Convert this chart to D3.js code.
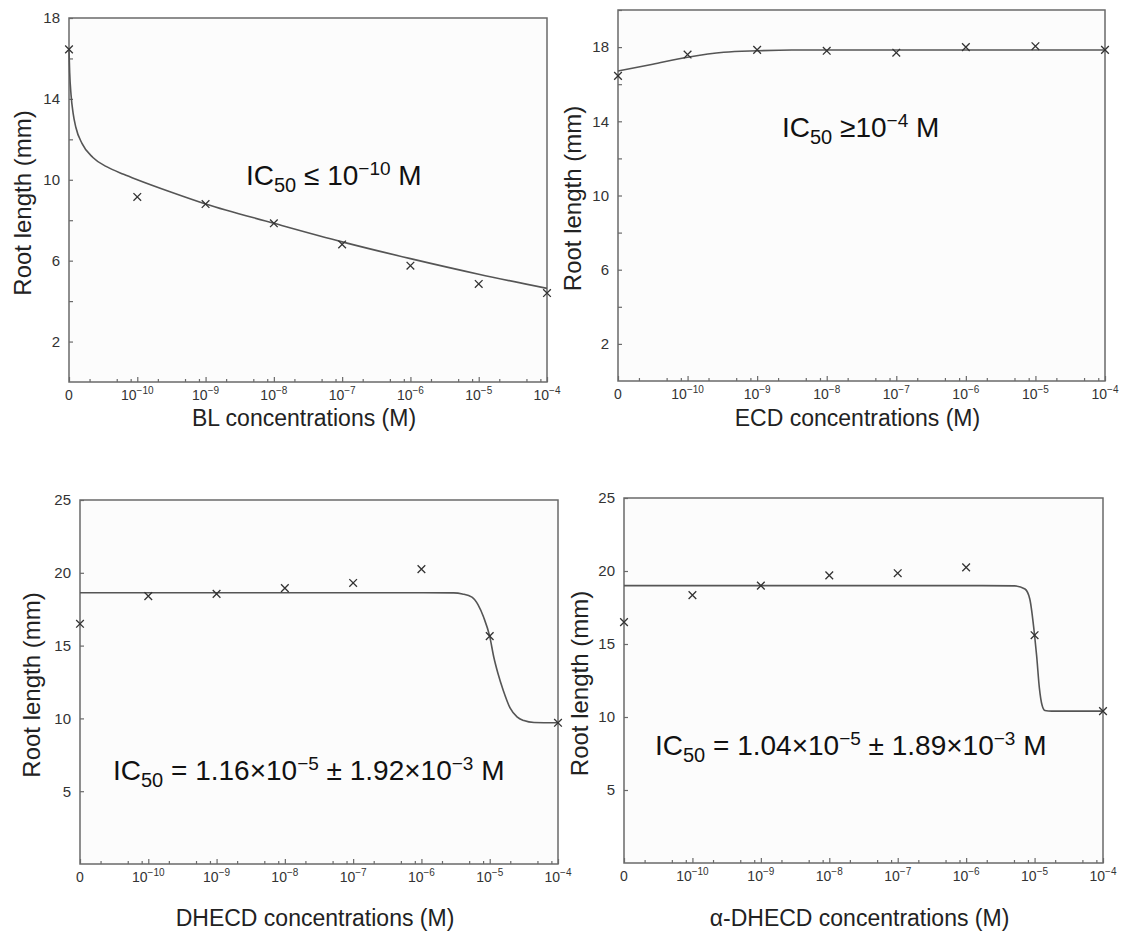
<!DOCTYPE html>
<html>
<head>
<meta charset="utf-8">
<script src="https://cdn.jsdelivr.net/npm/d3@7"></script>
<style>
  body { margin: 0; background: #fff; }
  text { font-family: "Liberation Sans", Arial, sans-serif; }
</style>
</head>
<body>
<svg id="chart" width="1128" height="934"></svg>
<script>
// concentrations (M); the "0" dose is plotted one decade below 10^-10
const concentrations = [0, 1e-10, 1e-9, 1e-8, 1e-7, 1e-6, 1e-5, 1e-4];
const tickExponents = [null, -10, -9, -8, -7, -6, -5, -4];

const blValues = [16.45, 9.15, 8.8, 7.85, 6.8, 5.75, 4.85, 4.4];
const ecdValues = [16.45, 17.6, 17.85, 17.8, 17.7, 18.0, 18.05, 17.85];
const dhecdValues = [16.5, 18.4, 18.55, 18.95, 19.3, 20.25, 15.65, 9.7];
const aDhecdValues = [16.5, 18.35, 19.0, 19.7, 19.85, 20.25, 15.6, 10.4];

// fitted curves: [log10 concentration, mm]
const blFit = [[-11, 16.4], [-10.99, 15.3], [-10.97, 14.2], [-10.94, 13.3], [-10.9, 12.6],
  [-10.81, 11.8], [-10.65, 11.1], [-10.45, 10.65], [-10.2, 10.27], [-10, 10.0], [-9.5, 9.38],
  [-9, 8.8], [-8, 7.85], [-7, 6.93], [-6, 6.1], [-5, 5.33], [-4, 4.63]];
const ecdFit = [[-11, 16.71], [-10.5, 17.08], [-10, 17.45], [-9.48, 17.72], [-9, 17.8],
  [-8.5, 17.84], [-4, 17.84]];
const dhecdFit = [[-11, 18.63], [-6, 18.63], [-5.53, 18.62], [-5.4, 18.55], [-5.26, 18.33],
  [-5.17, 17.8], [-5.09, 16.96], [-5.0, 15.63], [-4.94, 14.2], [-4.88, 13.1], [-4.8, 11.9],
  [-4.7, 10.7], [-4.6, 10.1], [-4.5, 9.85], [-4.35, 9.72], [-4, 9.7]];
const aDhecdFit = [[-11, 19.0], [-6, 19.0], [-5.29, 18.98], [-5.14, 18.77], [-5.07, 18.08],
  [-5.0, 15.6], [-4.97, 14.2], [-4.93, 12.0], [-4.89, 10.8], [-4.85, 10.45], [-4.75, 10.4],
  [-4, 10.4]];

// y tick values
const yTicksSmall = [2, 4, 6, 8, 10, 12, 14, 16, 18, 20];
const yLabelsSmall = [2, 6, 10, 14, 18];
const yTicksLarge = [5, 10, 15, 20, 25];

const svg = d3.select('#chart');
const minorMult = [2, 5, 8];

function drawPanel(p) {
  const x = d3.scaleLog().domain([1e-11, 1e-4]).range([p.left, p.right]);
  const y = d3.scaleLinear().domain([0, p.yMax]).range([p.bottom, p.top]);
  const xc = c => x(c === 0 ? 1e-11 : c);
  const g = svg.append('g');

  // plot background
  g.append('rect')
    .attr('x', p.left).attr('y', p.top)
    .attr('width', p.right - p.left).attr('height', p.bottom - p.top)
    .attr('fill', '#fcfcfc');

  // minor x ticks (log spacing), then majors
  let minors = [];
  for (let e = -11; e < -4; e++) minorMult.forEach(m => minors.push(m * Math.pow(10, e)));
  g.append('g').attr('transform', `translate(0,${p.bottom})`)
    .call(d3.axisBottom(x).tickValues(minors).tickSize(-3).tickFormat(''))
    .call(a => a.select('.domain').remove());
  g.append('g').attr('transform', `translate(0,${p.bottom})`)
    .call(d3.axisBottom(x).tickValues([1e-11, ...concentrations.slice(1)]).tickSize(-5).tickFormat(''))
    .call(a => a.select('.domain').remove());

  // y axis
  g.append('g').attr('transform', `translate(${p.left},0)`)
    .call(d3.axisLeft(y).tickValues(p.yTicks).tickSize(-4).tickPadding(9)
      .tickFormat(d => p.yLabels.includes(d) ? d : ''))
    .call(a => a.select('.domain').remove())
    .call(a => a.selectAll('text').attr('font-size', 15).attr('fill', '#333')
      .style('font-family', '"Liberation Sans", Arial, sans-serif'));

  g.selectAll('.tick line').attr('stroke', '#6a6a6a').attr('stroke-width', 1.2);

  // frame
  g.append('rect')
    .attr('x', p.left).attr('y', p.top)
    .attr('width', p.right - p.left).attr('height', p.bottom - p.top)
    .attr('fill', 'none').attr('stroke', '#6a6a6a').attr('stroke-width', 1.5);

  // x tick labels with superscripts
  concentrations.forEach((c, i) => {
    const t = g.append('text')
      .attr('x', xc(c)).attr('y', p.bottom + 18)
      .attr('text-anchor', 'middle').attr('font-size', 14).attr('fill', '#333');
    if (tickExponents[i] === null) { t.text('0'); return; }
    t.append('tspan').text('10');
    t.append('tspan').attr('dy', -6).attr('font-size', 10).text('\u2212' + Math.abs(tickExponents[i]));
  });

  // axis titles
  g.append('text')
    .attr('x', (p.left + p.right) / 2 - 4).attr('y', p.titleY)
    .attr('text-anchor', 'middle').attr('font-size', 23).attr('fill', '#222')
    .text(p.title);
  g.append('text')
    .attr('transform', `translate(${p.yTitleX},${(p.top + p.bottom) / 2 + 3}) rotate(-90)`)
    .attr('text-anchor', 'middle').attr('font-size', 24).attr('fill', '#222')
    .text('Root length (mm)');

  // fitted curve
  const line = d3.line()
    .x(d => x(Math.pow(10, d[0])))
    .y(d => y(d[1]))
    .curve(d3.curveMonotoneX);
  g.append('path').datum(p.fit)
    .attr('d', line).attr('fill', 'none')
    .attr('stroke', '#555').attr('stroke-width', 1.6);

  // data markers
  g.selectAll('.pt').data(p.values).join('path')
    .attr('transform', (d, i) => `translate(${xc(concentrations[i])},${y(d)})`)
    .attr('d', d3.symbol().type(d3.symbolX).size(40))
    .attr('fill', 'none').attr('stroke', '#333').attr('stroke-width', 1.3);

  // IC50 annotation
  const a = g.append('text')
    .attr('x', p.annX).attr('y', p.annY)
    .attr('font-size', 28).attr('fill', '#111');
  a.append('tspan').text('IC');
  a.append('tspan').attr('dy', 7).attr('font-size', 20).text('50');
  let shift = 7;
  p.ann.forEach(part => {
    if (part.sup) {
      a.append('tspan').attr('dy', -10 - shift).attr('font-size', 19).text(part.sup);
      shift = -10;
    } else {
      a.append('tspan').attr('dy', -shift).text(part.txt);
      shift = 0;
    }
  });
}

drawPanel({
  left: 69, right: 547, top: 18, bottom: 382, yMax: 18,
  yTicks: yTicksSmall.filter(v => v <= 18), yLabels: yLabelsSmall,
  values: blValues, fit: blFit, title: 'BL concentrations (M)', titleY: 426, yTitleX: 31,
  annX: 246, annY: 185,
  ann: [{ txt: ' \u2264 10' }, { sup: '\u221210' }, { txt: ' M' }]
});
drawPanel({
  left: 618, right: 1105, top: 10, bottom: 381, yMax: 20,
  yTicks: yTicksSmall, yLabels: yLabelsSmall,
  values: ecdValues, fit: ecdFit, title: 'ECD concentrations (M)', titleY: 426, yTitleX: 581,
  annX: 782, annY: 137,
  ann: [{ txt: ' \u226510' }, { sup: '\u22124' }, { txt: ' M' }]
});
drawPanel({
  left: 80, right: 558, top: 500, bottom: 864, yMax: 25,
  yTicks: yTicksLarge, yLabels: yTicksLarge,
  values: dhecdValues, fit: dhecdFit, title: 'DHECD concentrations (M)', titleY: 926, yTitleX: 40,
  annX: 113, annY: 780,
  ann: [{ txt: ' = 1.16\u00d710' }, { sup: '\u22125' }, { txt: ' \u00b1 1.92\u00d710' }, { sup: '\u22123' }, { txt: ' M' }]
});
drawPanel({
  left: 624, right: 1103, top: 498, bottom: 863, yMax: 25,
  yTicks: yTicksLarge, yLabels: yTicksLarge,
  values: aDhecdValues, fit: aDhecdFit, title: '\u03b1-DHECD concentrations (M)', titleY: 926, yTitleX: 588,
  annX: 655, annY: 755,
  ann: [{ txt: ' = 1.04\u00d710' }, { sup: '\u22125' }, { txt: ' \u00b1 1.89\u00d710' }, { sup: '\u22123' }, { txt: ' M' }]
});
</script>
</body>
</html>
